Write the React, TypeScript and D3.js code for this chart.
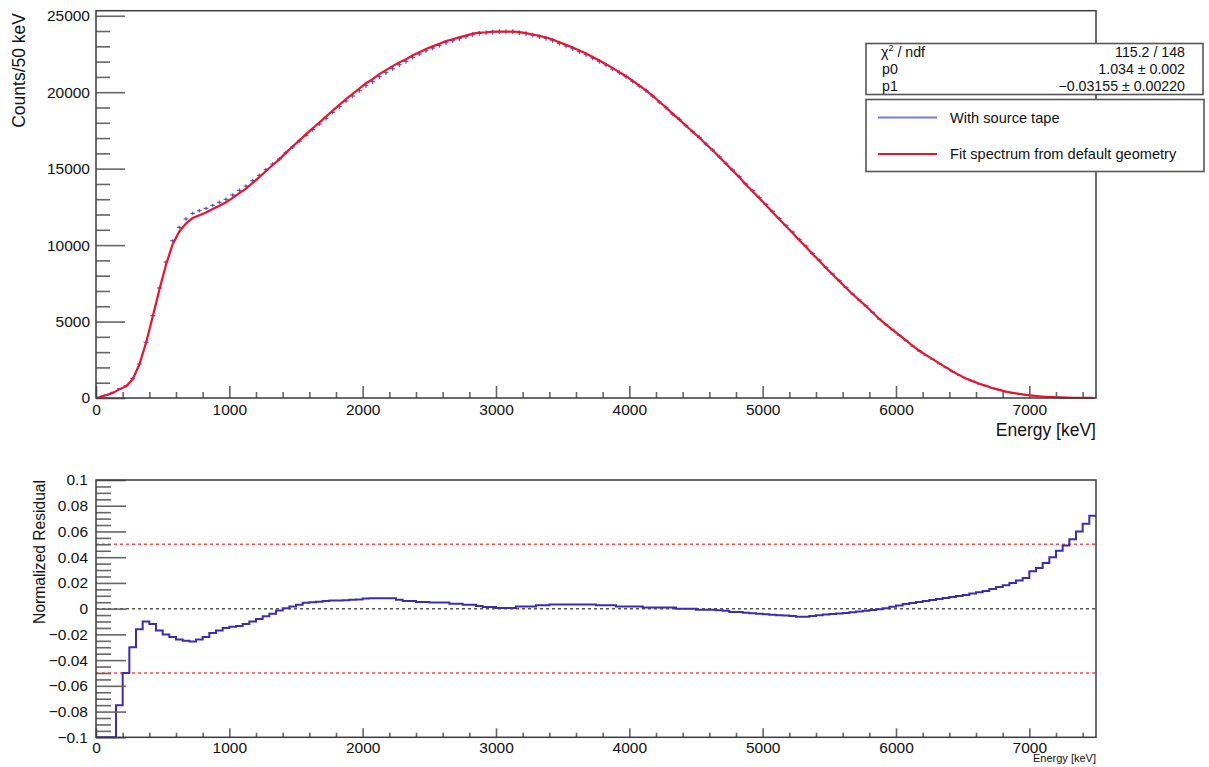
import { useEffect, useRef } from 'react';
import * as d3 from 'd3';

// 50 keV bins, 0 - 7500 keV
const BIN_WIDTH = 50;

// measured spectrum "With source tape" (counts per 50 keV bin)
const counts = [
  60, 200, 370, 610, 806, 1264, 2223, 3640, 5384, 7193,
  8894, 10289, 11161, 11706, 12076, 12250, 12403, 12599, 12795, 12992,
  13275, 13580, 13863, 14212, 14561, 14932, 15302, 15629, 16043, 16420,
  16800, 17180, 17550, 17920, 18290, 18680, 19051, 19422, 19749, 20098,
  20425, 20686, 21013, 21275, 21536, 21798, 22016, 22277, 22495, 22713,
  22888, 23062, 23237, 23367, 23498, 23629, 23760, 23847, 23890, 23934,
  23956, 23956, 23956, 23890, 23825, 23738, 23629, 23520, 23367, 23193,
  23019, 22844, 22648, 22452, 22234, 22016, 21776, 21515, 21275, 21013,
  20708, 20403, 20098, 19749, 19357, 18986, 18572, 18223, 17809, 17416,
  17046, 16610, 16218, 15782, 15346, 14910, 14474, 13994, 13558, 13122,
  12665, 12207, 11749, 11292, 10855, 10376, 9940, 9460, 9024, 8545,
  8109, 7673, 7237, 6801, 6409, 6016, 5602, 5166, 4796, 4447,
  4098, 3749, 3400, 3074, 2790, 2529, 2245, 1984, 1722, 1482,
  1264, 1090, 916, 785, 632, 523, 414, 330, 260, 200,
  150, 110, 80, 55, 38, 25, 15, 9, 5, 2,
];

// normalized residual per bin (bottom pad)
const residuals = [
  -0.1, -0.1, -0.1, -0.075, -0.05, -0.03, -0.016, -0.01, -0.012, -0.017,
  -0.02, -0.022, -0.024, -0.025, -0.0255, -0.024, -0.022, -0.019, -0.017, -0.015,
  -0.014, -0.0135, -0.012, -0.01, -0.008, -0.006, -0.004, -0.0015, 0.0003, 0.0016,
  0.003, 0.0045, 0.005, 0.0054, 0.006, 0.0064, 0.0064, 0.0066, 0.007, 0.0072,
  0.0078, 0.008, 0.008, 0.008, 0.008, 0.007, 0.006, 0.006, 0.0052, 0.0052,
  0.0047, 0.0047, 0.0047, 0.0039, 0.0039, 0.0031, 0.0031, 0.0021, 0.0013, 0.0013,
  0.0005, 0.0005, 0.0005, 0.0016, 0.0016, 0.0016, 0.0026, 0.0026, 0.0033, 0.0033,
  0.0033, 0.0033, 0.0033, 0.0033, 0.0033, 0.0026, 0.0026, 0.0026, 0.0016, 0.0016,
  0.0016, 0.0016, 0.0008, 0.0008, 0.0008, 0.0008, 0.0008, 0, 0, 0,
  -0.0008, -0.0008, -0.0008, -0.0012, -0.0016, -0.0026, -0.0026, -0.0032, -0.0036, -0.004,
  -0.0044, -0.0048, -0.0052, -0.0054, -0.0058, -0.0062, -0.0062, -0.0058, -0.0052, -0.0046,
  -0.0042, -0.0038, -0.0033, -0.0028, -0.0022, -0.0016, -0.001, -0.0004, 0.0003, 0.0015,
  0.0025, 0.0036, 0.0044, 0.0052, 0.006, 0.0067, 0.0075, 0.0083, 0.0091, 0.0098,
  0.0106, 0.0117, 0.0127, 0.0137, 0.0153, 0.0168, 0.0181, 0.02, 0.0218, 0.0238,
  0.029, 0.0316, 0.0355, 0.04, 0.045, 0.049, 0.054, 0.06, 0.066, 0.0723,
];

const energyTicks = [0, 1000, 2000, 3000, 4000, 5000, 6000, 7000];
const countTicks = [0, 5000, 10000, 15000, 20000, 25000];
const residualTicks = [-0.1, -0.08, -0.06, -0.04, -0.02, 0, 0.02, 0.04, 0.06, 0.08, 0.1];
const limitLines = [0.05, -0.05];

const statsLabels = ['p0', 'p1'];
const statsValues = ['115.2 / 148', '1.034 \u00b1 0.002', '\u22120.03155 \u00b1 0.00220'];
const legendLabels = ['With source tape', 'Fit spectrum from default geometry'];

const binEdges = counts.map((_, i) => i * BIN_WIDTH);
// fitted spectrum, from data and residual
const fitValues = counts.map((c, i) => c * (1 + residuals[i]));

export default function App() {
  const ref = useRef<SVGSVGElement>(null);

  useEffect(() => {
    const width = 1209;
    const height = 767;
    const font = "'Liberation Sans', Arial, Helvetica, sans-serif";
    const svg = d3.select(ref.current);
    svg.selectAll('*').remove();
    svg.attr('viewBox', `0 0 ${width} ${height}`);

    const x = d3.scaleLinear().domain([0, 7500]).range([96, 1096]);
    const yTop = d3.scaleLinear().domain([0, 25330]).range([398, 10.7]);
    const yBot = d3.scaleLinear().domain([-0.1, 0.1]).range([737.3, 480]).clamp(true);

    const styleAxis = (g: any) => {
      g.select('.domain').remove();
      g.selectAll('.tick line').attr('stroke', '#666').attr('stroke-width', 1.6);
      g.selectAll('.tick text')
        .attr('font-family', font)
        .attr('font-size', 15.5)
        .attr('fill', '#111');
    };

    // ---------- top pad ----------
    const dataG = svg.append('g').attr('stroke', '#4040b8').attr('stroke-opacity', 0.85).attr('stroke-width', 1.2);
    dataG
      .selectAll('.hbar')
      .data(counts)
      .enter()
      .append('line')
      .attr('x1', (d, i) => x(binEdges[i]) + 0.9)
      .attr('x2', (d, i) => x(binEdges[i] + BIN_WIDTH) - 0.9)
      .attr('y1', (d) => yTop(d))
      .attr('y2', (d) => yTop(d));
    dataG
      .selectAll('.vbar')
      .data(counts)
      .enter()
      .append('line')
      .attr('x1', (d, i) => x(binEdges[i] + BIN_WIDTH / 2))
      .attr('x2', (d, i) => x(binEdges[i] + BIN_WIDTH / 2))
      .attr('y1', (d) => yTop(d + Math.sqrt(d)))
      .attr('y2', (d) => yTop(Math.max(0, d - Math.sqrt(d))));

    const fitLine = d3
      .line<number>()
      .x((d, i) => x(binEdges[i] + BIN_WIDTH / 2))
      .y((d) => yTop(d));
    svg
      .append('path')
      .datum(fitValues)
      .attr('d', fitLine)
      .attr('fill', 'none')
      .attr('stroke', '#f0122c')
      .attr('stroke-width', 2.2);

    const minorE = d3.range(0, 7500, 200).filter((v) => v % 1000 !== 0);
    svg
      .append('g')
      .attr('transform', 'translate(0, 398)')
      .call(d3.axisBottom(x).tickValues(minorE).tickSize(-6).tickFormat(() => ''))
      .call(styleAxis);
    svg
      .append('g')
      .attr('transform', 'translate(0, 398)')
      .call(d3.axisBottom(x).tickValues(energyTicks).tickSize(-12).tickPadding(6).tickFormat(d3.format('d')))
      .call(styleAxis);

    const minorC = d3.range(0, 25001, 1000).filter((v) => v % 5000 !== 0);
    svg
      .append('g')
      .attr('transform', 'translate(96, 0)')
      .call(d3.axisLeft(yTop).tickValues(minorC).tickSize(-14).tickFormat(() => ''))
      .call(styleAxis);
    svg
      .append('g')
      .attr('transform', 'translate(96, 0)')
      .call(d3.axisLeft(yTop).tickValues(countTicks).tickSize(-29).tickPadding(6).tickFormat(d3.format('d')))
      .call(styleAxis);

    svg
      .append('rect')
      .attr('x', 96)
      .attr('y', 10.7)
      .attr('width', 1000)
      .attr('height', 398 - 10.7)
      .attr('fill', 'none')
      .attr('stroke', '#3a3a3a')
      .attr('stroke-width', 1.5);

    svg
      .append('text')
      .attr('transform', 'translate(25, 13) rotate(-90)')
      .attr('text-anchor', 'end')
      .attr('font-family', font)
      .attr('font-size', 17.5)
      .attr('fill', '#111')
      .text('Counts/50 keV');
    svg
      .append('text')
      .attr('x', 1096)
      .attr('y', 436)
      .attr('text-anchor', 'end')
      .attr('font-family', font)
      .attr('font-size', 17.5)
      .attr('fill', '#111')
      .text('Energy [keV]');

    // stats box
    const stats = svg.append('g').attr('font-family', font).attr('font-size', 14.2).attr('fill', '#111');
    stats
      .append('rect')
      .attr('x', 866)
      .attr('y', 43.5)
      .attr('width', 337)
      .attr('height', 51)
      .attr('fill', '#fff')
      .attr('stroke', '#555')
      .attr('stroke-width', 1.6);
    const chi = stats.append('text').attr('x', 881).attr('y', 57);
    chi.append('tspan').text('\u03c7');
    chi.append('tspan').attr('font-size', 9).attr('dy', -6).text('2');
    chi.append('tspan').attr('dy', 6).text(' / ndf');
    stats
      .selectAll('.slab')
      .data(statsLabels)
      .enter()
      .append('text')
      .attr('x', 882)
      .attr('y', (d, i) => 74 + i * 17)
      .text((d) => d);
    stats
      .selectAll('.sval')
      .data(statsValues)
      .enter()
      .append('text')
      .attr('x', 1185)
      .attr('y', (d, i) => 57 + i * 17)
      .attr('text-anchor', 'end')
      .text((d) => d);

    // legend
    const legend = svg.append('g').attr('font-family', font).attr('font-size', 14.6).attr('fill', '#111');
    legend
      .append('rect')
      .attr('x', 866)
      .attr('y', 99.5)
      .attr('width', 338)
      .attr('height', 72)
      .attr('fill', '#fff')
      .attr('stroke', '#555')
      .attr('stroke-width', 1.6);
    const legendColors = ['#7b7bd8', '#f0122c'];
    legendLabels.forEach((label, i) => {
      const ly = 117.5 + i * 36.5;
      legend
        .append('line')
        .attr('x1', 878)
        .attr('x2', 937)
        .attr('y1', ly)
        .attr('y2', ly)
        .attr('stroke', legendColors[i])
        .attr('stroke-width', 2);
      legend
        .append('text')
        .attr('x', 950)
        .attr('y', ly + 5)
        .text(label);
    });

    // ---------- bottom pad ----------
    svg
      .selectAll('.limit')
      .data(limitLines)
      .enter()
      .append('line')
      .attr('x1', 96)
      .attr('x2', 1096)
      .attr('y1', (d) => yBot(d))
      .attr('y2', (d) => yBot(d))
      .attr('stroke', '#ff4a4a')
      .attr('stroke-width', 1.5)
      .attr('stroke-dasharray', '3,3');
    svg
      .append('line')
      .attr('x1', 96)
      .attr('x2', 1096)
      .attr('y1', yBot(0))
      .attr('y2', yBot(0))
      .attr('stroke', '#555')
      .attr('stroke-width', 1.5)
      .attr('stroke-dasharray', '3,3');

    const stepPoints: [number, number][] = residuals.map((r, i) => [binEdges[i], r]);
    stepPoints.push([binEdges[binEdges.length - 1] + BIN_WIDTH, residuals[residuals.length - 1]]);
    const stepLine = d3
      .line<[number, number]>()
      .x((d) => x(d[0]))
      .y((d) => yBot(d[1]))
      .curve(d3.curveStepAfter);
    svg
      .append('path')
      .datum(stepPoints)
      .attr('d', stepLine)
      .attr('fill', 'none')
      .attr('stroke', '#3a2cb4')
      .attr('stroke-width', 2);

    svg
      .append('g')
      .attr('transform', 'translate(0, 737.3)')
      .call(d3.axisBottom(x).tickValues(minorE).tickSize(-4.5).tickFormat(() => ''))
      .call(styleAxis);
    svg
      .append('g')
      .attr('transform', 'translate(0, 737.3)')
      .call(d3.axisBottom(x).tickValues(energyTicks).tickSize(-9).tickPadding(5).tickFormat(d3.format('d')))
      .call(styleAxis);

    const minorR = d3.range(-100, 101, 5).filter((v) => v % 20 !== 0).map((v) => v / 1000);
    const fmtRes = (d: any) => {
      const v = +(+d).toFixed(2);
      return v === 0 ? '0' : String(v).replace('-', '\u2212');
    };
    svg
      .append('g')
      .attr('transform', 'translate(96, 0)')
      .call(d3.axisLeft(yBot).tickValues(minorR).tickSize(-15).tickFormat(() => ''))
      .call(styleAxis);
    svg
      .append('g')
      .attr('transform', 'translate(96, 0)')
      .call(d3.axisLeft(yBot).tickValues(residualTicks).tickSize(-30).tickPadding(8).tickFormat(fmtRes))
      .call(styleAxis);

    svg
      .append('rect')
      .attr('x', 96)
      .attr('y', 480)
      .attr('width', 1000)
      .attr('height', 737.3 - 480)
      .attr('fill', 'none')
      .attr('stroke', '#3a3a3a')
      .attr('stroke-width', 1.5);

    svg
      .append('text')
      .attr('transform', 'translate(45, 480) rotate(-90)')
      .attr('text-anchor', 'end')
      .attr('font-family', font)
      .attr('font-size', 15.6)
      .attr('fill', '#111')
      .text('Normalized Residual');
    svg
      .append('text')
      .attr('x', 1096)
      .attr('y', 762)
      .attr('text-anchor', 'end')
      .attr('font-family', font)
      .attr('font-size', 11)
      .attr('fill', '#111')
      .text('Energy [keV]');
  }, []);

  return (
    <svg
      ref={ref}
      width={1209}
      height={767}
      style={{ position: 'absolute', left: 0, top: 0, background: '#fff', display: 'block' }}
    ></svg>
  );
}
